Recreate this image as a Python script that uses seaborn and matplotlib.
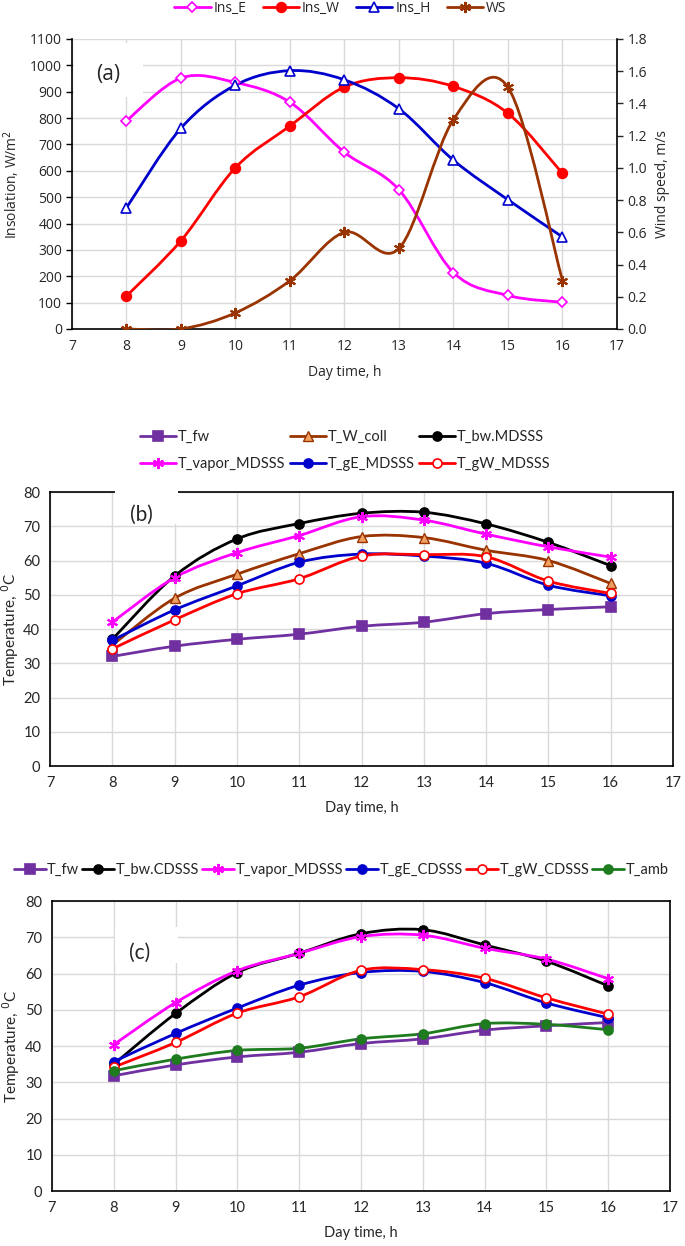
import matplotlib
matplotlib.use("Agg")
import matplotlib.pyplot as plt
import seaborn as sns
import numpy as np
from matplotlib.path import Path
from matplotlib.patches import PathPatch, Rectangle
from matplotlib.lines import Line2D

# ---- data ----
hours = [8, 9, 10, 11, 12, 13, 14, 15, 16]

ins_e = [790, 952, 935, 860, 670, 528, 214, 127, 101]
ins_w = [125, 335, 612, 770, 918, 953, 920, 818, 590]
ins_h = [460, 762, 925, 980, 945, 835, 640, 490, 349]
ws = [0.0, 0.0, 0.1, 0.3, 0.6, 0.5, 1.3, 1.5, 0.3]

b_fw = [32.0, 35.0, 37.0, 38.5, 40.8, 42.0, 44.5, 45.7, 46.5]
b_wcoll = [35.3, 49.0, 56.0, 62.0, 67.0, 66.7, 63.0, 60.0, 53.3]
b_bw = [37.0, 55.5, 66.3, 70.8, 73.8, 74.1, 70.7, 65.3, 58.5]
b_vapor = [42.0, 55.0, 62.3, 67.3, 72.8, 71.8, 67.7, 64.0, 61.0]
b_ge = [36.7, 45.6, 52.6, 59.5, 61.9, 61.3, 59.2, 52.8, 49.7]
b_gw = [34.2, 42.7, 50.3, 54.7, 61.3, 61.7, 61.1, 54.0, 50.4]

c_fw = [31.8, 34.8, 37.0, 38.3, 40.7, 42.0, 44.4, 45.6, 46.5]
c_bw = [35.0, 49.0, 60.3, 65.6, 71.0, 72.1, 67.9, 63.4, 56.6]
c_vapor = [40.4, 52.0, 60.8, 65.6, 70.2, 70.6, 67.0, 64.0, 58.6]
c_ge = [35.7, 43.5, 50.5, 56.8, 60.3, 60.6, 57.5, 51.9, 47.8]
c_gw = [34.2, 41.0, 49.1, 53.6, 60.9, 61.1, 58.7, 53.3, 48.8]
c_amb = [33.2, 36.4, 38.8, 39.4, 42.0, 43.4, 46.2, 46.0, 44.5]

sns.set_style("white")
plt.rcParams['font.family'] = ['Lato', 'DejaVu Sans']
plt.rcParams['mathtext.fontset'] = 'dejavusans'

ASTER = (6, 2, 0)
GRID = '#d9d9d9'


def smooth(ax, x, y, color, lw=2.0):
    # Excel style smoothed line: cubic bezier through the data points
    pts = list(zip(x, y))
    n = len(pts)
    verts = [pts[0]]
    codes = [Path.MOVETO]
    for i in range(n - 1):
        p0 = pts[max(i - 1, 0)]
        p1 = pts[i]
        p2 = pts[i + 1]
        p3 = pts[min(i + 2, n - 1)]
        c1 = (p1[0] + (p2[0] - p0[0]) / 6, p1[1] + (p2[1] - p0[1]) / 6)
        c2 = (p2[0] - (p3[0] - p1[0]) / 6, p2[1] - (p3[1] - p1[1]) / 6)
        verts += [c1, c2, p2]
        codes += [Path.CURVE4] * 3
    ax.add_patch(PathPatch(Path(verts, codes), facecolor='none',
                           edgecolor=color, lw=lw, zorder=3, capstyle='round'))


def series(ax, y, color, marker, face=None, edge=None, ms=6, mew=1.2):
    smooth(ax, hours, y, color)
    sns.lineplot(x=hours, y=y, ax=ax, color=color, linewidth=0, marker=marker,
                 markersize=ms, markerfacecolor=face if face else color,
                 markeredgecolor=edge if edge else color, markeredgewidth=mew,
                 zorder=4)
    return Line2D([], [], color=color, lw=2.0, marker=marker, markersize=ms,
                  markerfacecolor=face if face else color,
                  markeredgecolor=edge if edge else color, markeredgewidth=mew)


def base(ax, ylim, yticks, fs=10.5):
    ax.set_xlim(7, 17)
    ax.set_xticks(range(7, 18))
    ax.set_ylim(*ylim)
    ax.set_yticks(yticks)
    ax.grid(True, color=GRID, lw=1.0, zorder=0)
    ax.set_axisbelow(True)
    ax.tick_params(axis='both', direction='out', length=4, width=1.0,
                   color='black', labelsize=fs, pad=3)
    for s in ['left', 'bottom']:
        ax.spines[s].set_color('black')
        ax.spines[s].set_linewidth(1.2)
    ax.set_xlabel('Day time, h', fontsize=fs, labelpad=8)


fig = plt.figure(figsize=(6.85, 12.46), dpi=100)

# ---- panel (a) ----
fa = ['Open Sans', 'DejaVu Sans']
axa = fig.add_axes([0.1051, 0.7360, 0.7956, 0.2327])
base(axa, (0, 1100), range(0, 1101, 100), fs=10)
for lab in axa.get_xticklabels() + axa.get_yticklabels():
    lab.set_family(fa)
axa.xaxis.label.set_family(fa)
axa.spines['top'].set_visible(False)
axa.spines['right'].set_visible(False)
axa.add_patch(Rectangle((0.004, 0.80), 0.126, 0.185, transform=axa.transAxes,
                        facecolor='white', edgecolor='none', zorder=1))
axa.text(0.045, 0.86, '(a)', transform=axa.transAxes, fontsize=15,
         family=fa, zorder=2)

h1 = series(axa, ins_e, '#ff00ff', 'D', face='white', ms=5.5)
h2 = series(axa, ins_w, '#ff0000', 'o', ms=7)
h3 = series(axa, ins_h, '#0000cc', '^', face='white', ms=6.5)

ax2 = axa.twinx()
ax2.set_ylim(0, 1.8)
ax2.set_yticks(np.arange(0, 1.81, 0.2))
ax2.set_yticklabels([f'{v:.1f}' for v in np.arange(0, 1.81, 0.2)], family=fa)
ax2.tick_params(axis='y', direction='out', length=4, width=1.0, labelsize=10)
ax2.spines['right'].set_color('black')
ax2.spines['right'].set_linewidth(1.2)
for s in ['top', 'left', 'bottom']:
    ax2.spines[s].set_visible(False)
ax2.set_ylabel('Wind speed, m/s', fontsize=10, family=fa, labelpad=6)
h4 = series(ax2, ws, '#993300', ASTER, ms=8, mew=1.5)
axa.set_ylabel('Insolation, W/m$^2$', fontsize=10, family=fa, labelpad=6)

fig.legend([h1, h2, h3, h4], ['Ins_E', 'Ins_W', 'Ins_H', 'WS'],
           loc='center', bbox_to_anchor=(0.497, 0.9935), ncol=4, frameon=False,
           handlelength=2.6, columnspacing=1.2, handletextpad=0.2,
           prop={'family': fa, 'size': 10})

# ---- panel (b) ----
axb = fig.add_axes([0.0730, 0.3852, 0.9095, 0.2199])
base(axb, (0, 80), range(0, 81, 10))
for s in ['top', 'right']:
    axb.spines[s].set_color('black')
    axb.spines[s].set_linewidth(1.2)
axb.set_ylabel('Temperature, $^0$C', fontsize=11)
axb.yaxis.set_label_coords(-0.046, 0.5)
axb.add_patch(Rectangle((0.104, 0.885), 0.101, 0.13, transform=axb.transAxes,
                        facecolor='white', edgecolor='none', zorder=5,
                        clip_on=False))
axb.text(0.128, 0.895, '(b)', transform=axb.transAxes, fontsize=15, zorder=6)

b_fw_h = series(axb, b_fw, '#7030a0', 's', ms=6.5)
b_wcoll_h = series(axb, b_wcoll, '#993300', '^', face='#f0a060', ms=6.5, mew=1.0)
b_bw_h = series(axb, b_bw, '#000000', 'o', ms=6.5)
b_vapor_h = series(axb, b_vapor, '#ff00ff', ASTER, ms=8, mew=1.5)
b_ge_h = series(axb, b_ge, '#0000cc', 'o', ms=6.5)
b_gw_h = series(axb, b_gw, '#ff0000', 'o', face='white', ms=6.5)
# legend fills column by column, so order to get rows as in the figure
fig.legend([b_fw_h, b_vapor_h, b_wcoll_h, b_ge_h, b_bw_h, b_gw_h],
           ['T_fw', 'T_vapor_MDSSS', 'T_W_coll', 'T_gE_MDSSS', 'T_bw.MDSSS',
            'T_gW_MDSSS'],
           loc='center left', bbox_to_anchor=(0.185, 0.6386),
           ncol=3, frameon=False, fontsize=10.5, handlelength=2.5,
           columnspacing=0.3, handletextpad=0.1, labelspacing=0.9)

# ---- panel (c) ----
axc = fig.add_axes([0.0759, 0.0441, 0.9022, 0.2327])
base(axc, (0, 80), range(0, 81, 10))
for s in ['top', 'right']:
    axc.spines[s].set_color('black')
    axc.spines[s].set_linewidth(1.2)
axc.set_ylabel('Temperature, $^0$C', fontsize=11)
axc.yaxis.set_label_coords(-0.048, 0.5)
axc.add_patch(Rectangle((0.102, 0.786), 0.102, 0.125, transform=axc.transAxes,
                        facecolor='white', edgecolor='none', zorder=1))
axc.text(0.125, 0.80, '(c)', transform=axc.transAxes, fontsize=15, zorder=2)

hc = [
    series(axc, c_fw, '#7030a0', 's', ms=6.5),
    series(axc, c_bw, '#000000', 'o', ms=6.5),
    series(axc, c_vapor, '#ff00ff', ASTER, ms=8, mew=1.5),
    series(axc, c_ge, '#0000cc', 'o', ms=6.5),
    series(axc, c_gw, '#ff0000', 'o', face='white', ms=6.5),
    series(axc, c_amb, '#1e7b1e', 'o', ms=6.5),
]
lc = ['T_fw', 'T_bw.CDSSS', 'T_vapor_MDSSS', 'T_gE_CDSSS', 'T_gW_CDSSS',
      'T_amb']
fig.legend(hc, lc, loc='center', bbox_to_anchor=(0.498, 0.3018),
           ncol=6, frameon=False, fontsize=10.5, handlelength=2.2,
           columnspacing=0.2, handletextpad=0.1)

fig.savefig('out.png', dpi=100)
